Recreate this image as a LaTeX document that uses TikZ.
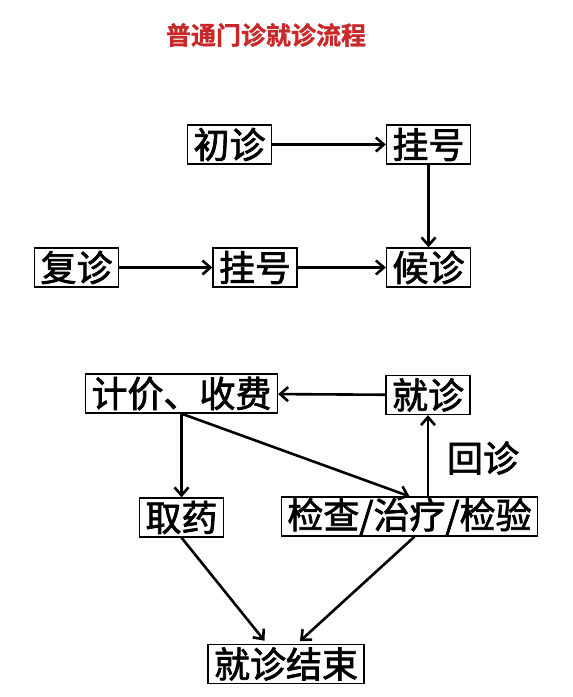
\documentclass[tikz,border=0pt]{standalone}
\usepackage{fontspec}
\newfontfamily\cjk[FakeBold=2]{Noto Sans CJK SC}
\newfontfamily\cjktitle[FakeBold=1]{Noto Sans CJK SC Bold}
\usetikzlibrary{arrows.meta}
\definecolor{titlered}{RGB}{200,40,40}
\begin{document}
\begin{tikzpicture}[x=1pt,y=-1pt,
        box/.style={draw, line width=1.3pt, inner xsep=6pt, inner ysep=1pt,
            minimum height=39pt, font=\cjk\fontsize{36}{36}\selectfont},
        arr/.style={line width=2.6pt, -{Straight Barb[length=8pt,width=14pt]}}]
        \useasboundingbox (0,0) rectangle (573,697);

        % Title
        \node[text=titlered, font=\cjktitle\fontsize{25}{25}\selectfont] (title) at (266,35) {普通门诊就诊流程};

        % Registration
        \node[box] (chuzhen) at (229.5,144.5) {初诊};
        \node[box] (guahaoA) at (428.5,144.5) {挂号};
        \node[box] (fuzhen) at (76.5,267.5) {复诊};
        \node[box] (guahaoB) at (255,267.5) {挂号};
        \node[box] (houzhen) at (428.5,267.5) {候诊};

        \draw[arr] (chuzhen) -- (guahaoA);
        \draw[arr] (guahaoA) -- (houzhen);
        \draw[arr] (fuzhen) -- (guahaoB);
        \draw[arr] (guahaoB) -- (houzhen);

        % Consultation
        \node[box] (jijia) at (181.5,393.5) {计价、收费};
        \node[box] (jiuzhen) at (428,395) {就诊};
        \node[box] (quyao) at (181.5,517.5) {取药};
        \node[box] (jiancha) at (409.5,516.5) {检查/治疗/检验};
        \node[box] (jieshu) at (286,664) {就诊结束};
        \node[font=\cjk\fontsize{36}{36}\selectfont] (huizhen) at (483,458) {回诊};

        \draw[arr] (jiuzhen) -- (jijia);
        \draw[arr] (jijia.south) -- (quyao.north);
        \draw[arr] (jijia.south) -- (jiancha.north);
        \draw[arr] (jiancha.north -| jiuzhen.south) -- (jiuzhen.south);

        % End
        \draw[arr, shorten >=4pt] (quyao.south) -- ([xshift=-19pt]jieshu.north);
        \draw[arr, shorten >=4pt] ([xshift=5pt]jiancha.south) -- ([xshift=11pt]jieshu.north);
    \end{tikzpicture}
\end{document}
